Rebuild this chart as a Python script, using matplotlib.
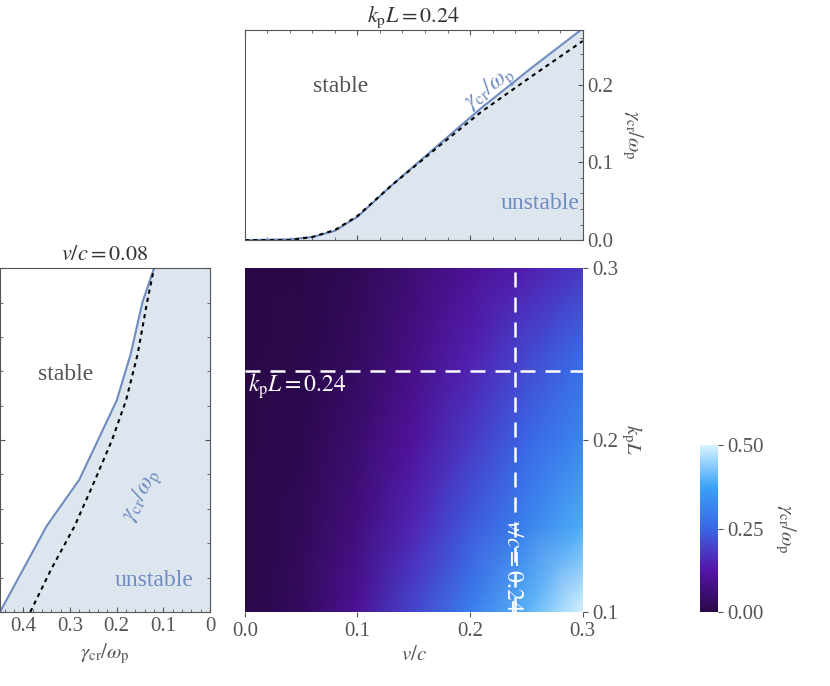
import numpy as np
import matplotlib.pyplot as plt
from matplotlib.colors import LinearSegmentedColormap

plt.rcParams['font.family'] = ['Liberation Serif', 'DejaVu Serif']
plt.rcParams['mathtext.fontset'] = 'stix'
gray = '#555555'
plt.rcParams['text.color'] = gray
plt.rcParams['axes.labelcolor'] = gray
plt.rcParams['xtick.color'] = gray
plt.rcParams['ytick.color'] = gray
plt.rcParams['axes.edgecolor'] = gray
plt.rcParams['font.size'] = 15

# heatmap grid
v_grid = [0.0, 0.05, 0.1, 0.15, 0.2, 0.25, 0.3]
kl_grid = [0.1, 0.15, 0.2, 0.25, 0.3]
gamma_grid = [
    [0.0, 0.03, 0.10, 0.20, 0.30, 0.40, 0.50],
    [0.0, 0.02, 0.07, 0.15, 0.23, 0.31, 0.39],
    [0.0, 0.01, 0.05, 0.11, 0.18, 0.25, 0.32],
    [0.0, 0.005, 0.03, 0.08, 0.14, 0.20, 0.26],
    [0.0, 0.0, 0.02, 0.06, 0.10, 0.14, 0.18],
]

# top panel, kpL = 0.24
v_top = [0.0, 0.04, 0.06, 0.08, 0.10, 0.13, 0.17, 0.21, 0.255, 0.30]
g_top = [0.0, 0.001, 0.004, 0.012, 0.03, 0.07, 0.12, 0.17, 0.222, 0.272]
g_top_approx = [0.0, 0.0, 0.004, 0.013, 0.031, 0.07, 0.118, 0.165, 0.211, 0.256]

# left panel, v/c = 0.08
kl_left = [0.1, 0.125, 0.15, 0.177, 0.2, 0.223, 0.25, 0.28, 0.3]
g_left = [0.45, 0.40, 0.35, 0.28, 0.24, 0.20, 0.17, 0.145, 0.12]
g_left_approx = [0.385, 0.34, 0.29, 0.246, 0.21, 0.18, 0.155, 0.135, 0.12]

cmap = LinearSegmentedColormap.from_list('gc', [
    (0.0, '#2a0848'), (0.25, '#5515a8'), (0.5, '#3a66e6'),
    (0.75, '#3aa2f5'), (1.0, '#d6f2ff')])

fig = plt.figure(figsize=(8.3, 6.86), dpi=100)
fill = '#dde5ee'
line = '#6f8cc0'

# main heatmap
ax = fig.add_axes([0.295, 0.108, 0.407, 0.501])
V, K = np.meshgrid(v_grid, kl_grid)
ax.pcolormesh(V, K, np.array(gamma_grid), cmap=cmap, vmin=0, vmax=0.5,
              shading='gouraud')
ax.axvline(0.24, color='white', ls=(0, (6, 4)), lw=1.8)
ax.axhline(0.24, color='white', ls=(0, (6, 4)), lw=1.8)
ax.set_xlim(0, 0.3)
ax.set_ylim(0.1, 0.3)
ax.set_xticks([0.0, 0.1, 0.2, 0.3])
ax.set_yticks([0.1, 0.2, 0.3])
ax.yaxis.tick_right()
ax.yaxis.set_label_position('right')
ax.set_xlabel(r'$v/c$')
ax.set_ylabel(r'$k_{\rm p}L$', rotation=-90, labelpad=18)
ax.text(0.003, 0.228, r'$k_{\rm p}L = 0.24$', color='white', fontsize=17)
ax.text(0.228, 0.103, r'$v/c = 0.24$', color='white', fontsize=17, rotation=-90)
for s in ax.spines.values():
    s.set_visible(False)

# top panel
axt = fig.add_axes([0.295, 0.650, 0.407, 0.306])
axt.fill_between(v_top, g_top, 0, color=fill)
axt.plot(v_top, g_top, color=line, lw=1.5)
axt.plot(v_top, g_top_approx, color='black', ls=(0, (2, 2)), lw=1.5)
axt.set_xlim(0, 0.3)
axt.set_ylim(0, 0.27)
axt.set_xticks([0.0, 0.1, 0.2, 0.3])
axt.set_xticklabels([])
axt.set_yticks([0.0, 0.1, 0.2])
axt.yaxis.tick_right()
axt.yaxis.set_label_position('right')
axt.set_ylabel(r'$\gamma_{\rm cr}/\omega_{\rm p}$', rotation=-90, labelpad=22)
axt.set_title(r'$k_{\rm p}L = 0.24$', fontsize=16, color='#333333')
axt.minorticks_on()
axt.tick_params(which='both', direction='in', top=True)
axt.text(0.085, 0.19, 'stable', ha='center', fontsize=17)
axt.text(0.262, 0.04, 'unstable', ha='center', fontsize=17, color=line)
axt.text(0.19, 0.17, r'$\gamma_{\rm cr}/\omega_{\rm p}$', rotation=37,
         color=line, fontsize=17)

# left panel
axl = fig.add_axes([0.0, 0.108, 0.253, 0.501])
axl.fill_betweenx(kl_left, g_left, 0, color=fill)
axl.plot(g_left, kl_left, color=line, lw=1.5)
axl.plot(g_left_approx, kl_left, color='black', ls=(0, (2, 2)), lw=1.5)
axl.set_xlim(0.45, 0)
axl.set_ylim(0.1, 0.3)
axl.set_xticks([0.4, 0.3, 0.2, 0.1, 0])
axl.set_xticklabels(['0.4', '0.3', '0.2', '0.1', '0'])
axl.set_yticks([0.1, 0.2, 0.3])
axl.set_yticklabels([])
axl.minorticks_on()
axl.tick_params(which='both', direction='in', right=True)
axl.set_xlabel(r'$\gamma_{\rm cr}/\omega_{\rm p}$')
axl.set_title(r'$v/c = 0.08$', fontsize=16, color='#333333')
axl.text(0.31, 0.235, 'stable', ha='center', fontsize=17)
axl.text(0.12, 0.115, 'unstable', ha='center', fontsize=17, color=line)
axl.text(0.2, 0.155, r'$\gamma_{\rm cr}/\omega_{\rm p}$', rotation=62,
         color=line, fontsize=17)

# colorbar
cax = fig.add_axes([0.843, 0.108, 0.022, 0.243])
sm = plt.cm.ScalarMappable(cmap=cmap, norm=plt.Normalize(0, 0.5))
cb = fig.colorbar(sm, cax=cax, ticks=[0, 0.25, 0.5])
cb.ax.set_yticklabels(['0.00', '0.25', '0.50'])
cb.outline.set_visible(False)
cb.set_label(r'$\gamma_{\rm cr}/\omega_{\rm p}$', rotation=-90, labelpad=24)

fig.savefig('out.png', dpi=100)
